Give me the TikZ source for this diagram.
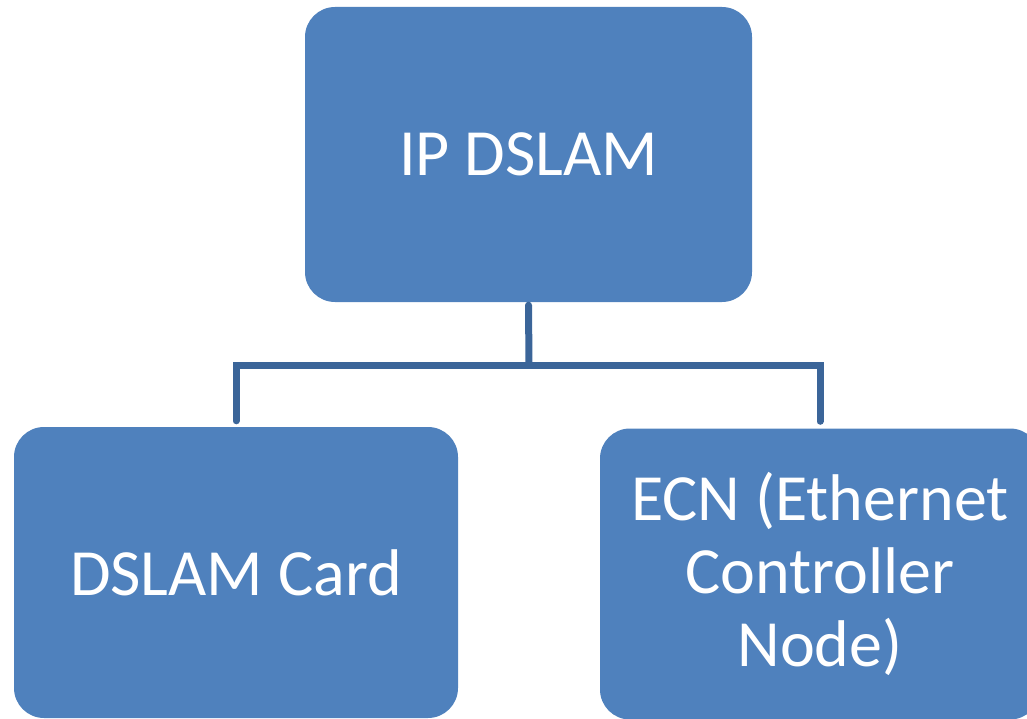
\documentclass[tikz,border=0pt]{standalone}
\usepackage{fontspec}
\setmainfont{Carlito}
\definecolor{boxblue}{HTML}{4F81BD}
\definecolor{lineblue}{HTML}{3B6599}
\begin{document}
\begin{tikzpicture}[x=1pt,y=-1pt,
  box/.style={rectangle, rounded corners=30pt, fill=boxblue, draw=none, text=white,
    align=center, font=\fontsize{66}{73}\selectfont, inner sep=0pt},
  conn/.style={draw=lineblue, line width=7pt, line cap=round}]
\useasboundingbox (0,0) rectangle (1027,719);
\begin{scope}
\clip (0,0) rectangle (1027,719);
\node[box, minimum width=447pt, minimum height=295pt] (top) at (528.5,154.5) {IP DSLAM};
\node[box, minimum width=444pt, minimum height=291pt] (left) at (236,572.5) {DSLAM Card};
\node[box, minimum width=440pt, minimum height=291pt] (right) at (820,574) {ECN (Ethernet\\Controller\\Node)};
\end{scope}
\coordinate (bus) at (529,365);
\draw[conn] ([yshift=-3pt]top.south) -- (bus);
\draw[conn] (bus) -| ([yshift=6pt]left.north);
\draw[conn] (bus) -| ([yshift=7pt]right.north);
\end{tikzpicture}
\end{document}
